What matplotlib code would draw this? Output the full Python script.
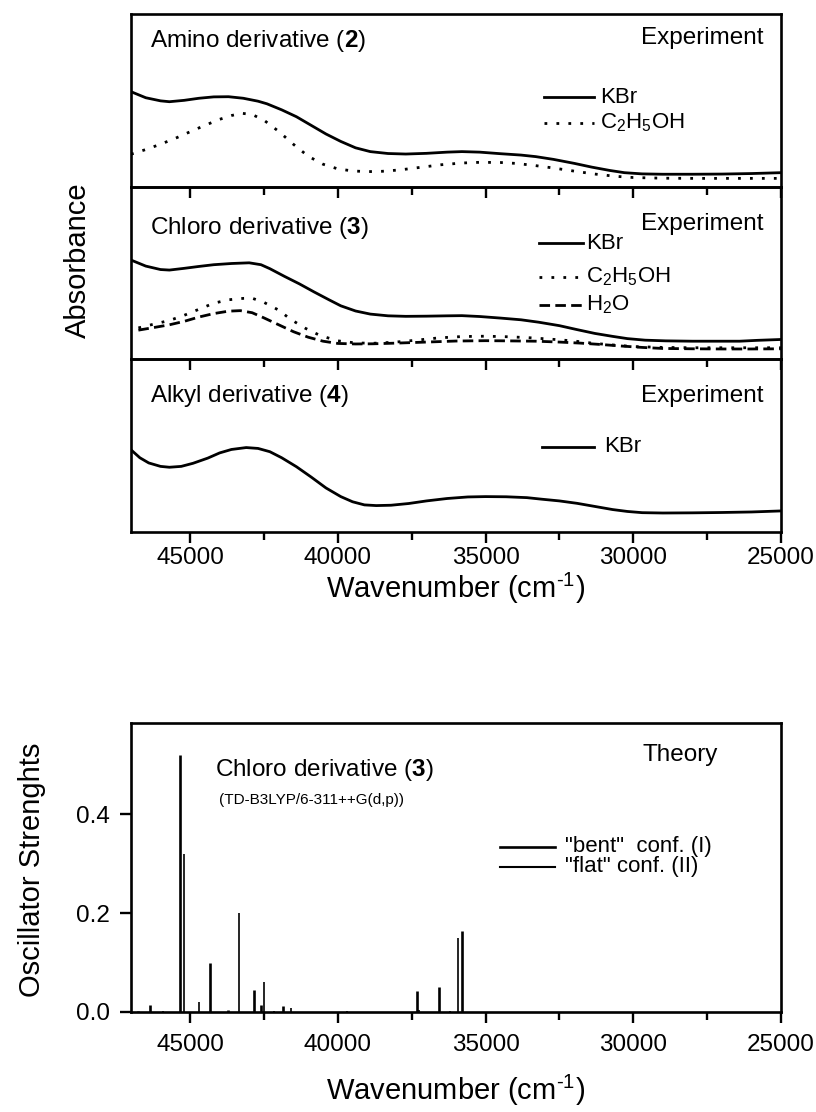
import matplotlib
matplotlib.use('Agg')
import matplotlib.pyplot as plt
from matplotlib.ticker import MultipleLocator, FormatStrFormatter

plt.rcParams['font.family'] = ['Liberation Sans', 'DejaVu Sans']
plt.rcParams['mathtext.fontset'] = 'custom'
plt.rcParams['mathtext.rm'] = 'Liberation Sans'
plt.rcParams['mathtext.bf'] = 'Liberation Sans:bold'
plt.rcParams['mathtext.it'] = 'Liberation Sans:italic'
plt.rcParams['mathtext.default'] = 'rm'

# ---------------- data (absorbance in arbitrary units, 0..1 of panel) ----------------
amino_kbr_wn = [47000, 46500, 46000, 45700, 45200, 44700, 44200, 43700, 43200, 42700, 42400,
                41900, 41400, 40900, 40400, 39900, 39400, 38900, 38300, 37700, 37000, 36300,
                35800, 35200, 34500, 33800, 33300, 32700, 32000, 31400, 30800, 30300, 29700,
                29000, 28000, 27000, 26000, 25000]
amino_kbr_abs = [0.550, 0.515, 0.497, 0.492, 0.500, 0.512, 0.520, 0.521, 0.512, 0.495, 0.480,
                 0.445, 0.405, 0.355, 0.305, 0.262, 0.225, 0.203, 0.192, 0.189, 0.193, 0.200,
                 0.203, 0.200, 0.191, 0.183, 0.174, 0.158, 0.135, 0.113, 0.094, 0.081, 0.074,
                 0.072, 0.072, 0.073, 0.076, 0.081]

amino_etoh_wn = [47000, 46500, 46000, 45500, 45000, 44500, 44000, 43600, 43250, 42900, 42500,
                 42000, 41500, 41000, 40500, 40000, 39500, 39000, 38500, 37900, 37200, 36500,
                 35800, 35200, 34500, 34000, 33400, 32700, 32000, 31300, 30600, 30000, 29000,
                 28000, 27000, 26000, 25000]
amino_etoh_abs = [0.188, 0.215, 0.246, 0.280, 0.318, 0.355, 0.390, 0.412, 0.425, 0.418, 0.385,
                  0.320, 0.245, 0.176, 0.130, 0.103, 0.091, 0.087, 0.089, 0.097, 0.112, 0.127,
                  0.137, 0.141, 0.140, 0.135, 0.124, 0.108, 0.090, 0.073, 0.060, 0.053, 0.049,
                  0.048, 0.048, 0.048, 0.048]

chloro_kbr_wn = [47000, 46500, 46000, 45700, 45200, 44700, 44200, 43600, 43000, 42600, 42300,
                 41800, 41300, 40800, 40300, 39900, 39400, 38900, 38300, 37700, 37000, 36300,
                 35800, 35200, 34500, 33800, 33200, 32500, 31900, 31300, 30700, 30200, 29600,
                 28900, 28000, 27000, 26400, 25800, 25000]
chloro_kbr_abs = [0.575, 0.540, 0.520, 0.517, 0.527, 0.538, 0.548, 0.555, 0.559, 0.548, 0.525,
                  0.480, 0.437, 0.390, 0.345, 0.310, 0.280, 0.262, 0.252, 0.249, 0.250, 0.252,
                  0.253, 0.248, 0.239, 0.229, 0.215, 0.195, 0.172, 0.150, 0.133, 0.120, 0.111,
                  0.107, 0.105, 0.105, 0.105, 0.110, 0.115]

chloro_etoh_wn = [46750, 46200, 45700, 45200, 44700, 44200, 43700, 43200, 42900, 42500, 42000,
                  41600, 41100, 40600, 40000, 39400, 38800, 38100, 37400, 36600, 35800, 35000,
                  34300, 33600, 32800, 32000, 31300, 30600, 30000, 29000, 28000, 27000, 26000,
                  25000]
chloro_etoh_abs = [0.182, 0.205, 0.225, 0.255, 0.290, 0.325, 0.345, 0.353, 0.354, 0.330, 0.285,
                   0.232, 0.180, 0.138, 0.107, 0.095, 0.093, 0.099, 0.110, 0.124, 0.132, 0.134,
                   0.131, 0.126, 0.117, 0.106, 0.092, 0.082, 0.074, 0.069, 0.067, 0.067, 0.067,
                   0.067]

chloro_h2o_wn = [46750, 46200, 45700, 45200, 44700, 44200, 43700, 43300, 42900, 42500, 42000,
                 41500, 41000, 40500, 40000, 39400, 38800, 38000, 37000, 36000, 35000, 34300,
                 33300, 32500, 31800, 31100, 30400, 29700, 29000, 28000, 27000, 26000, 25000]
chloro_h2o_abs = [0.169, 0.185, 0.200, 0.220, 0.245, 0.265, 0.279, 0.282, 0.270, 0.240, 0.200,
                  0.160, 0.128, 0.105, 0.092, 0.089, 0.090, 0.094, 0.100, 0.106, 0.108, 0.107,
                  0.105, 0.100, 0.094, 0.086, 0.077, 0.069, 0.063, 0.061, 0.060, 0.060, 0.061]

alkyl_kbr_wn = [47000, 46700, 46400, 46000, 45700, 45300, 44900, 44400, 44000, 43600, 43100,
                42700, 42300, 41900, 41400, 40900, 40400, 39900, 39500, 39100, 38700, 38200,
                37600, 37000, 36300, 35600, 35000, 34300, 33600, 33100, 32500, 31900, 31300,
                30700, 30200, 29700, 29000, 28000, 27000, 26000, 25000]
alkyl_kbr_abs = [0.476, 0.430, 0.400, 0.380, 0.375, 0.380, 0.398, 0.428, 0.458, 0.478, 0.489,
                 0.484, 0.465, 0.430, 0.378, 0.318, 0.255, 0.205, 0.175, 0.157, 0.153, 0.155,
                 0.165, 0.180, 0.194, 0.203, 0.205, 0.204, 0.199, 0.190, 0.180, 0.166, 0.148,
                 0.130, 0.119, 0.112, 0.110, 0.111, 0.113, 0.116, 0.122]

# theory: oscillator strengths
bent_wn = [46770, 46350, 45330, 44330, 43720, 42850, 42600, 41840, 37330, 36580, 35790]
bent_f = [0.003, 0.015, 0.52, 0.10, 0.005, 0.045, 0.015, 0.013, 0.042, 0.05, 0.163]
flat_wn = [45910, 45200, 44690, 43330, 42490, 42170, 41580, 39690, 37260, 36200, 35930]
flat_f = [0.003, 0.32, 0.02, 0.20, 0.06, 0.003, 0.008, 0.002, 0.005, 0.003, 0.15]

x_ticks = [45000, 40000, 35000, 30000, 25000]
y_ticks_theory = [0.0, 0.2, 0.4]

# ---------------- figure ----------------
W, H = 816, 1112
fig = plt.figure(figsize=(W / 100, H / 100), dpi=100)

LEFT = 131 / W
WIDTH = 650 / W
top_px, bot_px = 14, 532
ph = (bot_px - top_px) / 3

LW = 2.0
DOT = (0, (1.0, 3.3))
DASH = (0, (3.8, 1.9))
TXT = 17.5
LEG = 16
TICK = 17.5
XLAB = r'Wavenumber (cm$^{\text{-}1}$)'


def exp_axes(i):
    y0 = 1 - (top_px + (i + 1) * ph) / H
    ax = fig.add_axes([LEFT, y0, WIDTH, ph / H])
    ax.set_facecolor('none')
    ax.set_xlim(47000, 25000)
    ax.set_ylim(0, 1)
    ax.set_yticks([])
    ax.xaxis.set_major_locator(MultipleLocator(5000))
    ax.xaxis.set_minor_locator(MultipleLocator(2500))
    ax.tick_params(axis='x', which='major', direction='out', length=8, width=1.7,
                   labelsize=TICK, pad=3)
    ax.tick_params(axis='x', which='minor', direction='out', length=6, width=1.7)
    for s in ax.spines.values():
        s.set_linewidth(1.9)
    return ax


def leg_entry(ax, y, x0, x1, xt, ls, label):
    ax.plot([x0, x1], [y, y], transform=ax.transAxes, color='black', lw=LW, ls=ls,
            clip_on=False)
    ax.text(xt, y, label, transform=ax.transAxes, fontsize=LEG, va='center', ha='left')


# panel 1: amino
ax1 = exp_axes(0)
ax1.plot(amino_kbr_wn, amino_kbr_abs, color='black', lw=LW)
ax1.plot(amino_etoh_wn, amino_etoh_abs, color='black', lw=LW, ls=DOT)
ax1.text(0.029, 0.845, r'Amino derivative ($\mathbf{2}$)', transform=ax1.transAxes,
         fontsize=TXT, va='center', ha='left')
ax1.text(0.973, 0.86, 'Experiment', transform=ax1.transAxes, fontsize=TXT,
         va='center', ha='right')
leg_entry(ax1, 0.517, 0.635, 0.713, 0.722, '-', 'KBr')
leg_entry(ax1, 0.37, 0.635, 0.713, 0.722, DOT, r'C$_2$H$_5$OH')
ax1.tick_params(axis='x', labelbottom=False)

# panel 2: chloro
ax2 = exp_axes(1)
ax2.plot(chloro_kbr_wn, chloro_kbr_abs, color='black', lw=LW)
ax2.plot(chloro_etoh_wn, chloro_etoh_abs, color='black', lw=LW, ls=DOT)
ax2.plot(chloro_h2o_wn, chloro_h2o_abs, color='black', lw=LW, ls=DASH)
ax2.text(0.029, 0.76, r'Chloro derivative ($\mathbf{3}$)', transform=ax2.transAxes,
         fontsize=TXT, va='center', ha='left')
ax2.text(0.973, 0.785, 'Experiment', transform=ax2.transAxes, fontsize=TXT,
         va='center', ha='right')
leg_entry(ax2, 0.672, 0.628, 0.696, 0.700, '-', 'KBr')
leg_entry(ax2, 0.477, 0.628, 0.696, 0.700, DOT, r'C$_2$H$_5$OH')
leg_entry(ax2, 0.316, 0.628, 0.696, 0.700, DASH, r'H$_2$O')
ax2.tick_params(axis='x', labelbottom=False)

# panel 3: alkyl
ax3 = exp_axes(2)
ax3.plot(alkyl_kbr_wn, alkyl_kbr_abs, color='black', lw=LW)
ax3.text(0.029, 0.79, r'Alkyl derivative ($\mathbf{4}$)', transform=ax3.transAxes,
         fontsize=TXT, va='center', ha='left')
ax3.text(0.973, 0.79, 'Experiment', transform=ax3.transAxes, fontsize=TXT,
         va='center', ha='right')
leg_entry(ax3, 0.494, 0.632, 0.712, 0.728, '-', 'KBr')
ax3.set_xticks(x_ticks)
ax3.xaxis.set_major_formatter(FormatStrFormatter('%d'))
ax3.set_xlabel(XLAB, fontsize=21, labelpad=1)

fig.text(78 / W, 1 - 260 / H, 'Absorbance', rotation=90, fontsize=21,
         ha='center', va='center')

# theory panel
axt = fig.add_axes([LEFT, 1 - 1012 / H, WIDTH, 289 / H])
axt.set_xlim(47000, 25000)
axt.set_ylim(0, 0.584)
axt.vlines(bent_wn, 0, bent_f, color='black', lw=1.9)
axt.vlines(flat_wn, 0, flat_f, color='black', lw=1.2)
axt.set_xticks(x_ticks)
axt.xaxis.set_major_formatter(FormatStrFormatter('%d'))
axt.xaxis.set_minor_locator(MultipleLocator(2500))
axt.set_yticks(y_ticks_theory)
axt.yaxis.set_major_formatter(FormatStrFormatter('%.1f'))
axt.tick_params(axis='both', which='major', direction='out', length=8, width=1.7,
                labelsize=TICK)
axt.tick_params(axis='x', which='major', pad=8)
axt.tick_params(axis='y', which='major', pad=7)
axt.tick_params(axis='x', which='minor', direction='out', length=5.5, width=1.7)
for s in axt.spines.values():
    s.set_linewidth(1.9)
axt.set_xlabel(XLAB, fontsize=21, labelpad=12)
axt.text(0.129, 0.837, r'Chloro derivative ($\mathbf{3}$)', transform=axt.transAxes,
         fontsize=TXT, va='center', ha='left')
axt.text(0.135, 0.734, '(TD-B3LYP/6-311++G(d,p))', transform=axt.transAxes,
         fontsize=11, va='center', ha='left')
axt.text(0.845, 0.889, 'Theory', transform=axt.transAxes, fontsize=TXT,
         va='center', ha='center')
axt.plot([0.568, 0.653], [0.571, 0.571], transform=axt.transAxes, color='black', lw=1.9)
axt.plot([0.568, 0.653], [0.502, 0.502], transform=axt.transAxes, color='black', lw=1.5)
axt.text(0.667, 0.571, '"bent"  conf. (I)', transform=axt.transAxes, fontsize=LEG,
         va='center', ha='left')
axt.text(0.667, 0.502, '"flat" conf. (II)', transform=axt.transAxes, fontsize=LEG,
         va='center', ha='left')

fig.text(32 / W, 1 - 870 / H, 'Oscillator Strenghts', rotation=90, fontsize=21,
         ha='center', va='center')

fig.savefig('out.png', dpi=100)
